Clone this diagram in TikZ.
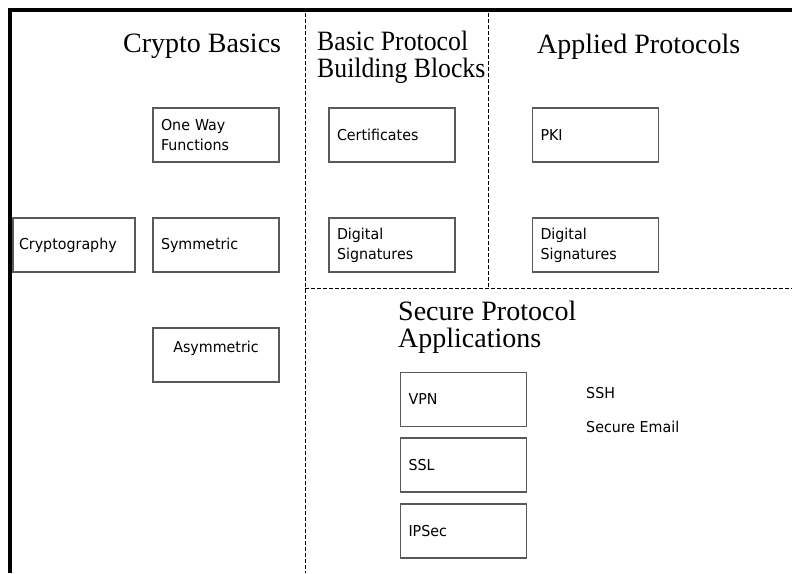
\documentclass[tikz,border=0pt]{standalone}
\usepackage{fontspec}
\setmainfont{Liberation Serif}
\newfontfamily\narrowserif[FakeStretch=0.92]{Liberation Serif}
\newfontfamily\boxfont[FakeStretch=0.95]{DejaVu Sans}
\begin{document}
\begin{tikzpicture}[x=1pt, y=-1pt, every node/.style={font=\boxfont\fontsize{15}{20}\selectfont}]
  \tikzstyle{blk}=[draw=black!65,line width=1.1pt,minimum width=126pt,minimum height=54pt,text width=110pt,inner xsep=8pt,align=left]
  \tikzstyle{hdr}=[font=\fontsize{28}{27}\selectfont,inner sep=0pt,align=left]
  \tikzstyle{sep}=[dash pattern=on 4pt off 2pt,line width=0.8pt]
  \useasboundingbox (0,0) rectangle (792,573);
  % frame and region borders
  \draw[line width=3.5pt] (10,573) -- (10,10) -- (792,10);
  \draw[sep] (305,13) -- (305,573);
  \draw[sep] (488,13) -- (488,288);
  \draw[sep] (305,288) -- (792,288);
  % headings
  \node[hdr,anchor=base west] (hbasics) at (123,52) {Crypto Basics};
  \node[hdr,font=\narrowserif\fontsize{28}{27}\selectfont,anchor=north west] (hblocks) at (317,31) {Basic Protocol\\Building Blocks};
  \node[hdr,anchor=base west] (happlied) at (537,53) {Applied Protocols};
  \node[hdr,anchor=north west] (hsecure) at (398,301) {Secure Protocol\\Applications};
  % crypto basics
  \node[blk,minimum width=122pt,inner xsep=6pt] (crypt) at (74,245) {Cryptography};
  \node[blk] (owf) at (216,135) {One Way\\Functions};
  \node[blk] (sym) at (216,245) {Symmetric};
  \node[blk,align=center,text depth=17pt] (asym) at (216,355) {Asymmetric};
  % building blocks
  \node[blk] (cert) at (392,135) {Certificates};
  \node[blk] (dsig) at (392,245) {Digital\\Signatures};
  % applied protocols
  \node[blk] (pki) at (595.5,135) {PKI};
  \node[blk] (dsigapp) at (595.5,245) {Digital\\Signatures};
  % applications
  \node[blk] (vpn) at (463.5,399.5) {VPN};
  \node[blk] (ssl) at (463.5,465) {SSL};
  \node[blk] (ipsec) at (463.5,531) {IPSec};
  \node[anchor=base west,inner sep=0pt] (ssh) at (586,398) {SSH};
  \node[anchor=base west,inner sep=0pt] (email) at (586,432) {Secure Email};
\end{tikzpicture}
\end{document}
